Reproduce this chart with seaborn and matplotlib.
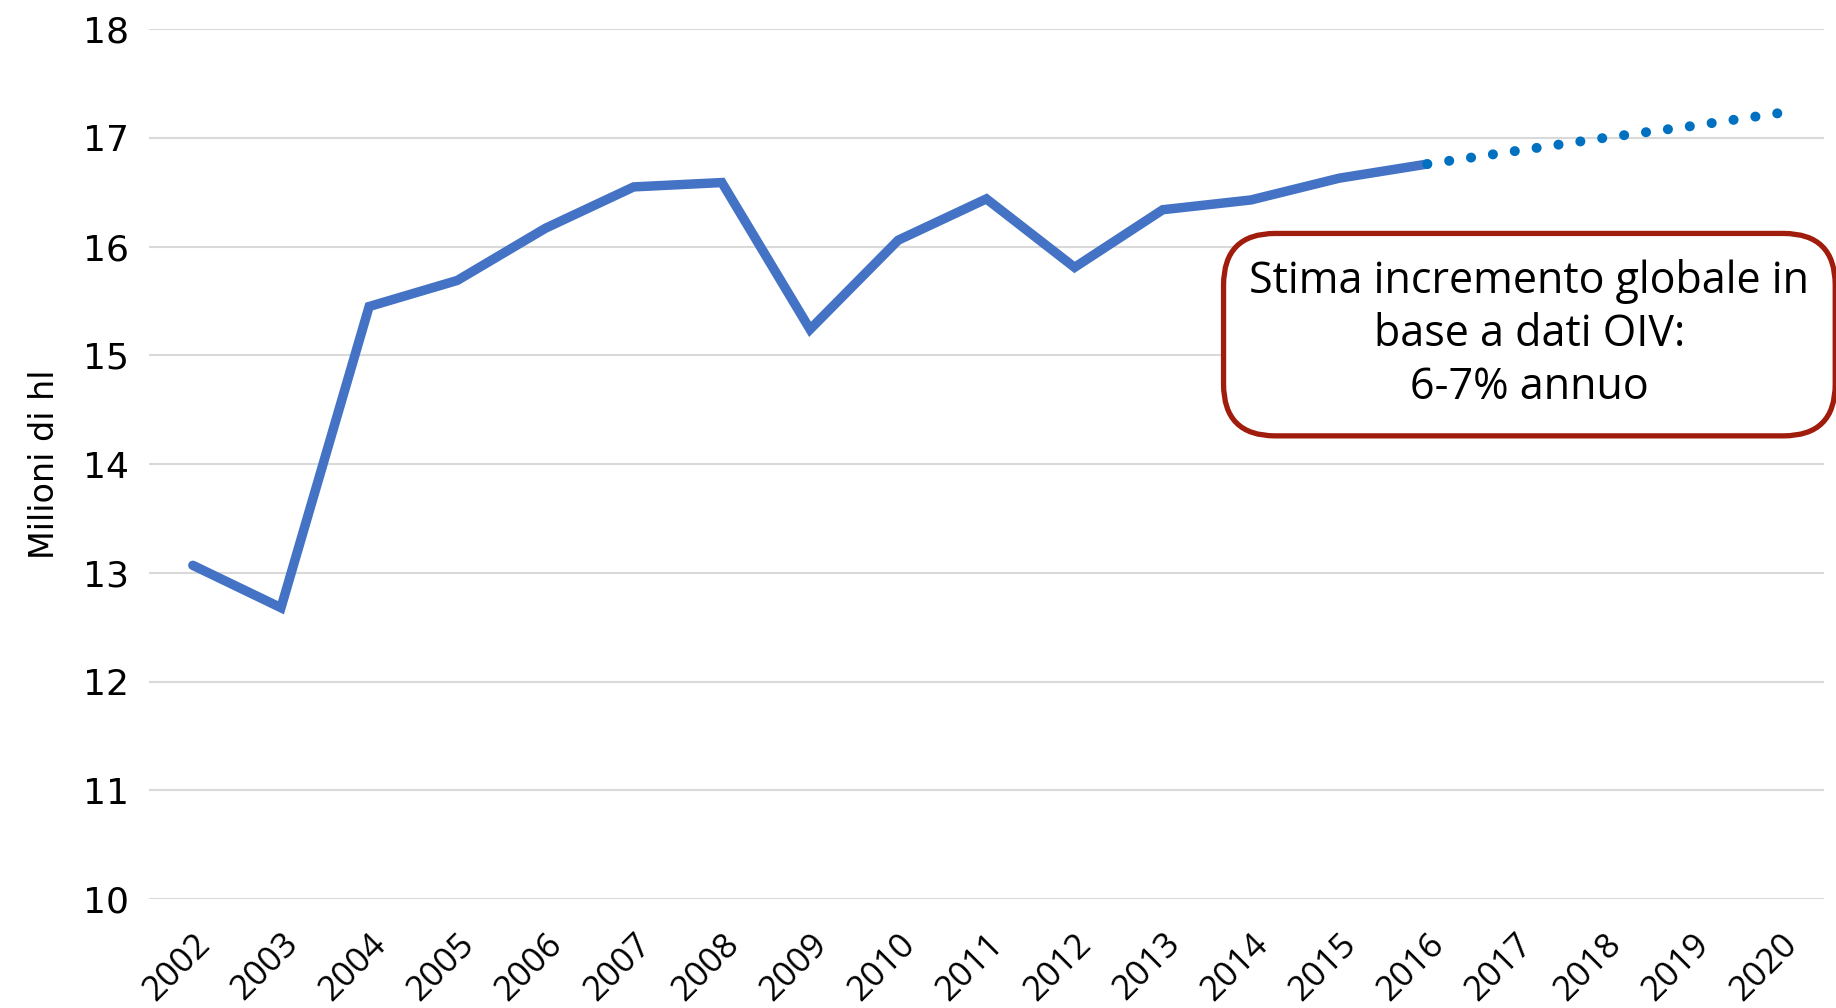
import matplotlib
matplotlib.use("Agg")
from matplotlib import pyplot as plt
import seaborn as sns
import pandas as pd

# dati osservati (milioni di hl)
years = [2002, 2003, 2004, 2005, 2006, 2007, 2008, 2009, 2010,
         2011, 2012, 2013, 2014, 2015, 2016]
values = [13.07, 12.68, 15.45, 15.69, 16.17, 16.55, 16.59, 15.24, 16.06,
          16.44, 15.81, 16.34, 16.43, 16.63, 16.76]

# stima OIV
proj_years = [2016, 2017, 2018, 2019, 2020]
proj_values = [16.76, 16.88, 17.00, 17.11, 17.23]

all_years = list(range(2002, 2021))
y_ticks = [10, 11, 12, 13, 14, 15, 16, 17, 18]
note = "Stima incremento globale in\nbase a dati OIV:\n6-7% annuo"

sns.set_style("white")
plt.rcParams['font.family'] = ['Open Sans', 'DejaVu Sans']
plt.rcParams['text.color'] = 'black'
plt.rcParams['xtick.color'] = 'black'
plt.rcParams['ytick.color'] = 'black'
plt.rcParams['axes.labelcolor'] = 'black'

df = pd.DataFrame({'anno': years, 'valore': values})
df_proj = pd.DataFrame({'anno': proj_years, 'valore': proj_values})

fig = plt.figure(figsize=(18.36, 10.08), dpi=100)
ax = fig.add_axes([0.081, 0.108, 0.9125, 0.863])

for y in y_ticks:
    ax.axhline(y, color='#D9D9D9', lw=1.5, zorder=0)

sns.lineplot(data=df, x='anno', y='valore', ax=ax, color='#4472C4',
             linewidth=6.8, solid_capstyle='round', solid_joinstyle='miter')
sns.lineplot(data=df_proj, x='anno', y='valore', ax=ax, color='#0070C0',
             linewidth=7.2, linestyle=(0, (0.01, 2.2)), dash_capstyle='round')

ax.set_xlim(2001.5, 2020.5)
ax.set_ylim(10, 18)
ax.set_xticks(all_years)
ax.set_xticklabels([str(y) for y in all_years], rotation=45, ha='right',
                   rotation_mode='anchor', fontsize=25)
ax.set_yticks(y_ticks)
ax.set_yticklabels([str(y) for y in y_ticks], fontsize=26, family='DejaVu Sans')
ax.tick_params(axis='y', length=0, pad=14)
ax.tick_params(axis='x', length=0, pad=20)
ax.set_xlabel('')
ax.set_ylabel('Milioni di hl', fontsize=24, family=['Liberation Sans Narrow', 'DejaVu Sans'],
              labelpad=16)
sns.despine(ax=ax, left=True, bottom=True)

ax.text(0.833, 0.668, note, transform=fig.transFigure, ha='center', va='center',
        fontsize=31, linespacing=1.25,
        bbox=dict(boxstyle='round,pad=0.6,rounding_size=1.2', fc='white',
                  ec='#A01C0C', lw=3.8))

fig.savefig('out.png', dpi=100)
